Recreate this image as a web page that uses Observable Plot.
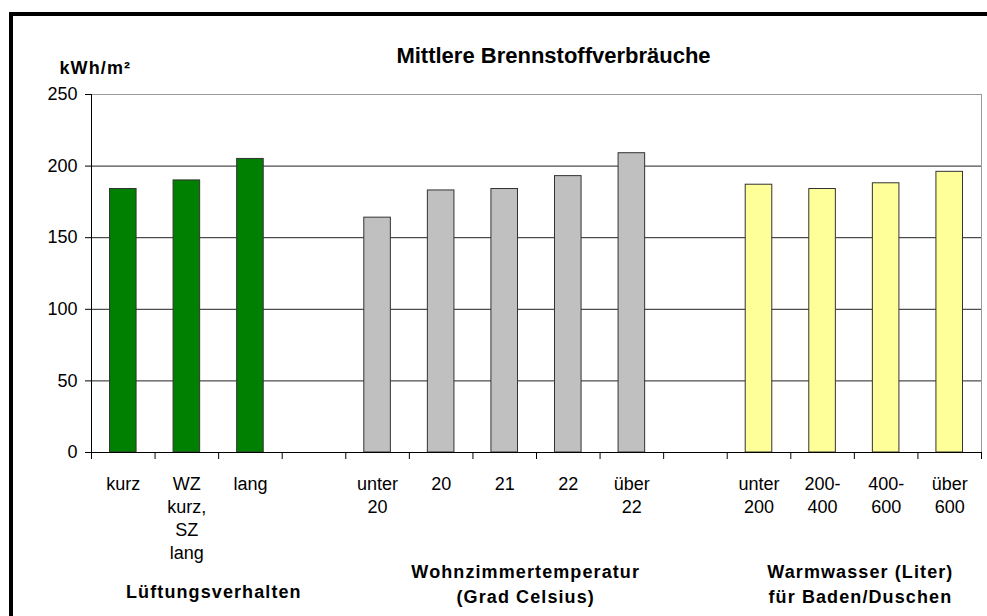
<!DOCTYPE html>
<html>
<head>
<meta charset="utf-8">
<script src="https://cdn.jsdelivr.net/npm/d3@7"></script>
<script src="https://cdn.jsdelivr.net/npm/@observablehq/plot@0.6"></script>
<style>
  html, body { margin: 0; padding: 0; background: #fff; overflow: hidden; width: 987px; height: 616px; }
  #frame { position: absolute; left: 9px; top: 12px; width: 1100px; height: 800px; border: 4px solid #000; box-sizing: border-box; }
  #chart { position: absolute; left: 0; top: 0; }
  g[font-weight="bold"][font-size="18"] text { letter-spacing: 1.1px; }
</style>
</head>
<body>
<div id="frame"></div>
<div id="chart"></div>
<script>
const title = "Mittlere Brennstoffverbräuche";
const unitLabel = "kWh/m²";
const categories = ["kurz", "WZ\nkurz,\nSZ\nlang", "lang", "", "unter\n20", "20", "21", "22", "über\n22", "", "unter\n200", "200-\n400", "400-\n600", "über\n600"];
const values = [184, 190, 205, null, 164, 183, 184, 193, 209, null, 187, 184, 188, 196];
const groups = ["Lüftung", "Lüftung", "Lüftung", null, "Temp", "Temp", "Temp", "Temp", "Temp", null, "Wasser", "Wasser", "Wasser", "Wasser"];
const groupNames = ["Lüftung", "Temp", "Wasser"];
const groupColors = ["#008000", "#c0c0c0", "#ffff99"];
const groupLabels = ["Lüftungsverhalten", "Wohnzimmertemperatur\n(Grad Celsius)", "Warmwasser (Liter)\nfür Baden/Duschen"];
const yTicks = [0, 50, 100, 150, 200, 250];
const gridValues = [50, 100, 150, 200];

const rows = categories.map((c, i) => ({i, label: c, value: values[i], group: groups[i]}));
const bars = rows.filter(d => d.value != null);
const n = categories.length;

const font = "'Liberation Sans', Arial, sans-serif";

const chart = Plot.plot({
  width: 987,
  height: 616,
  marginLeft: 91,
  marginRight: 6,
  marginTop: 94,
  marginBottom: 164,
  style: {fontFamily: font, fontSize: "18px", color: "#000", background: "transparent", overflow: "visible"},
  x: {type: "linear", domain: [0, n], axis: null},
  y: {domain: [0, 250], axis: null},
  color: {domain: groupNames, range: groupColors},
  marks: [
    Plot.ruleY(gridValues, {stroke: "#222", strokeWidth: 1}),
    Plot.ruleY([250], {stroke: "#999", strokeWidth: 1}),
    Plot.ruleX([n], {stroke: "#999", strokeWidth: 1}),
    Plot.rectY(bars, {x1: d => d.i, x2: d => d.i + 1, y1: 0, y2: "value", fill: "group", stroke: "#333", strokeWidth: 1, insetLeft: 18.5, insetRight: 18.5}),
    Plot.ruleX([0], {stroke: "#000", strokeWidth: 1}),
    Plot.ruleY([0], {stroke: "#000", strokeWidth: 1}),
    Plot.axisY({ticks: yTicks, tickSize: 6, tickPadding: 8, fontSize: 18, label: null, stroke: "#000"}),
    Plot.axisX({ticks: d3.range(0, n + 1), tickSize: 7, tickFormat: () => "", label: null, stroke: "#000"}),
    Plot.text(rows, {x: d => d.i + 0.5, text: "label", frameAnchor: "bottom", lineAnchor: "top", dy: 21, lineHeight: 1.28, fontSize: 18, fill: "#000"}),
    Plot.text([title], {frameAnchor: "top", text: d => d, lineAnchor: "middle", dx: 17, dy: -39, fontSize: 22, fontWeight: "bold", fill: "#000"}),
    Plot.text([unitLabel], {frameAnchor: "top-left", text: d => d, textAnchor: "start", lineAnchor: "middle", dx: -32, dy: -26, fontSize: 18, fontWeight: "bold", fill: "#000"}),
    Plot.text([groupLabels[0]], {x: 1.5, text: d => d, frameAnchor: "bottom", lineAnchor: "top", dx: 27, dy: 133, fontSize: 18, fontWeight: "bold", fill: "#000"}),
    Plot.text([groupLabels[1]], {x: 6.5, text: d => d, frameAnchor: "bottom", lineAnchor: "top", dx: 21, dy: 108, lineHeight: 1.39, fontSize: 18, fontWeight: "bold", fill: "#000"}),
    Plot.text([groupLabels[2]], {x: 12, text: d => d, frameAnchor: "bottom", lineAnchor: "top", dx: 6, dy: 108, lineHeight: 1.39, fontSize: 18, fontWeight: "bold", fill: "#000"})
  ]
});
document.getElementById("chart").appendChild(chart);
</script>
</body>
</html>
